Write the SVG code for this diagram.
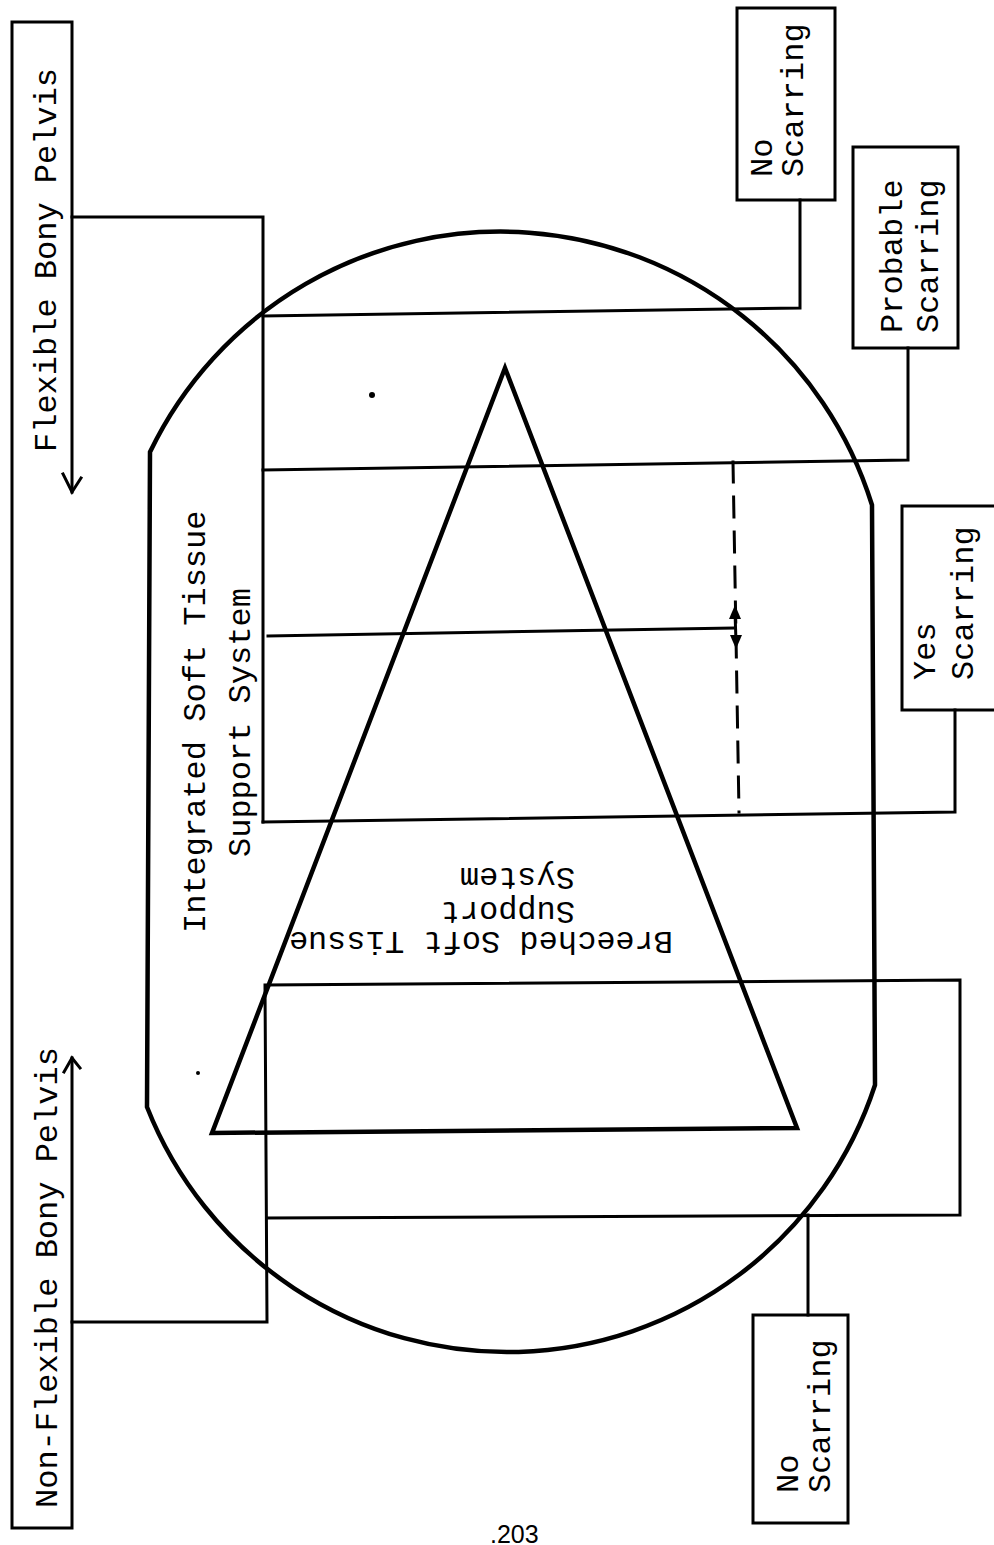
<svg xmlns="http://www.w3.org/2000/svg" width="994" height="1545" viewBox="0 0 994 1545">
<style>
.ln{stroke:#000;stroke-width:3;fill:none;stroke-linejoin:miter;stroke-linecap:square}
.thick{stroke-width:4.5}
.t{font-family:"Liberation Mono","Courier New",monospace;font-size:32px;fill:#000}
.pg{font-family:"Liberation Sans",Arial,sans-serif;font-size:25px;fill:#000}
</style>
<rect width="994" height="1545" fill="#fff"/>
<g id="pelvis-box">
  <path class="ln" d="M72,492 L72,22 L12,22 L12,1528 L72,1528 L72,1058"/>
  <polyline class="ln" points="63,474 72,492 81,478"/>
  <polyline class="ln" points="64,1072 72,1058 80,1068"/>
</g>
<g id="flexible">
  <text class="t" transform="translate(56,452) rotate(-90)">Flexible Bony Pelvis</text>
</g>
<g id="non-flexible">
  <text class="t" transform="translate(57,1508) rotate(-90)">Non-Flexible Bony Pelvis</text>
</g>
<g id="outline">
  <path class="ln thick" d="M150,452 A389,389 0 0 1 872,505 L875,1085 A387,387 0 0 1 147,1107 Z"/>
</g>
<g id="triangle">
  <path class="ln thick" d="M505,368 L797,1128 L212,1133 Z"/>
</g>
<g id="integrated">
  <text class="t" transform="translate(205,933) rotate(-90)">Integrated Soft Tissue</text>
  <text class="t" transform="translate(250,857) rotate(-90)">Support System</text>
</g>
<g id="breeched">
  <text class="t" transform="translate(673,932) rotate(180)">Breeched Soft Tissue</text>
  <text class="t" transform="translate(575,902) rotate(180)">Support</text>
  <text class="t" transform="translate(575,868) rotate(180)">System</text>
</g>
<g id="no-scarring-top">
  <rect class="ln" x="737" y="8" width="98" height="192"/>
  <text class="t" transform="translate(772,177) rotate(-90)">No</text>
  <text class="t" transform="translate(803,177) rotate(-90)">Scarring</text>
</g>
<g id="probable-scarring">
  <rect class="ln" x="853" y="147" width="105" height="201"/>
  <text class="t" transform="translate(902,333) rotate(-90)">Probable</text>
  <text class="t" transform="translate(938,333) rotate(-90)">Scarring</text>
</g>
<g id="yes-scarring">
  <rect class="ln" x="902" y="506" width="100" height="204"/>
  <text class="t" transform="translate(935,680) rotate(-90)">Yes</text>
  <text class="t" transform="translate(973,680) rotate(-90)">Scarring</text>
</g>
<g id="no-scarring-bottom">
  <rect class="ln" x="753" y="1315" width="95" height="208"/>
  <text class="t" transform="translate(798,1493) rotate(-90)">No</text>
  <text class="t" transform="translate(830,1493) rotate(-90)">Scarring</text>
</g>
<g id="connectors">
  <polyline class="ln" points="72,217 263,217 263,822"/>
  <polyline class="ln" points="263,316 800,308 800,200"/>
  <polyline class="ln" points="263,470 908,460 908,348"/>
  <polyline class="ln" points="268,636 733,628"/>
  <polyline class="ln" points="263,822 955,812 955,710"/>
  <line class="ln" x1="733" y1="462" x2="739" y2="812" stroke-width="3.5" stroke-dasharray="20 15" stroke-linecap="butt"/>
  <line class="ln" x1="735" y1="612" x2="736" y2="642"/>
  <polygon points="735,605 729,619 741,619" fill="#000"/>
  <polygon points="736,649 730,635 742,635" fill="#000"/>
  <polyline class="ln" points="72,1322 267,1322 265,985 960,980 960,1215 267,1218"/>
  <line class="ln" x1="808" y1="1215" x2="808" y2="1315"/>
</g>
<circle cx="372" cy="395" r="3" fill="#000"/>
<circle cx="198" cy="1073" r="2" fill="#000"/>
<text class="pg" x="490" y="1543">.203</text>
</svg>
